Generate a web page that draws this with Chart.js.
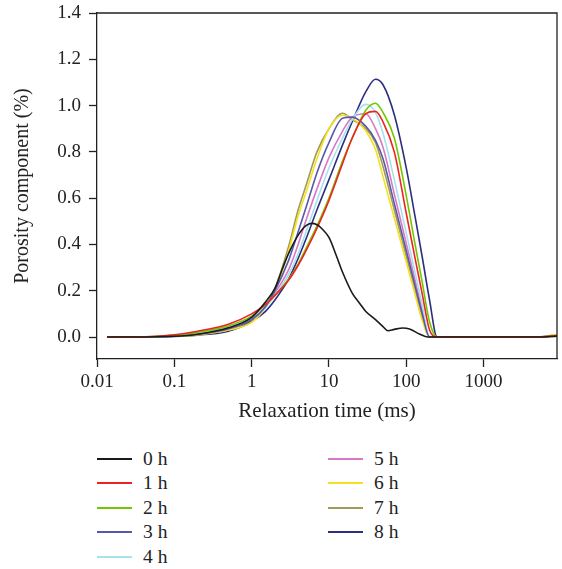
<!DOCTYPE html>
<html><head><meta charset="utf-8">
<script src="https://cdn.jsdelivr.net/npm/chart.js@4"></script>
<style>
html,body{margin:0;padding:0;background:#fff;}
#wrap{position:relative;width:562px;height:569px;overflow:hidden;}
#c{position:absolute;left:0;top:0;}
.lt{position:absolute;font-family:"Liberation Serif",serif;font-size:19.5px;color:#222;line-height:24px;height:24px;white-space:nowrap;}
.sw{position:absolute;height:2px;width:35px;}
</style></head>
<body><div id="wrap"><canvas id="c" width="562" height="430"></canvas><div id="legend"></div></div>
<script>
// Relaxation times (ms) shared by the 1 h - 8 h curves
const times = [0.0135, 0.03, 0.1, 0.2, 0.5, 1, 1.5, 2, 3, 4, 5, 7, 10, 15, 20, 30, 40, 50, 70, 100, 130, 160, 200, 250, 320, 1000, 5000, 8900];
// Relaxation times (ms) for the 0 h curve
const times0 = [0.0135, 0.03, 0.1, 0.2, 0.5, 1, 1.5, 2, 2.5, 3, 4, 5, 6, 7, 8, 10, 12.5, 15, 20, 25, 30, 40, 50, 58, 70, 90, 110, 150, 190, 250, 1000, 5000, 8900];

const h0 = [0,0,0.003,0.012,0.04,0.085,0.15,0.21,0.295,0.36,0.44,0.48,0.491,0.485,0.47,0.43,0.35,0.28,0.19,0.145,0.11,0.075,0.045,0.027,0.033,0.039,0.035,0.012,0,0,0,0,0.004];
const h1 = [0,0,0.01,0.025,0.055,0.1,0.14,0.18,0.245,0.31,0.37,0.47,0.59,0.75,0.86,0.965,0.975,0.93,0.80,0.534,0.34,0.19,0.03,0,0,0,0,0.005];
const h2 = [0,0,0.007,0.02,0.048,0.09,0.14,0.18,0.25,0.315,0.38,0.48,0.6,0.76,0.86,0.98,1.01,0.97,0.86,0.61,0.40,0.24,0.066,0,0,0,0,0.005];
const h3 = [0,0,0.004,0.012,0.035,0.075,0.13,0.2,0.33,0.455,0.555,0.71,0.84,0.945,0.95,0.91,0.85,0.77,0.577,0.373,0.222,0.104,0,0,0,0,0,0.006];
const h4 = [0,0,0.005,0.016,0.04,0.078,0.125,0.18,0.27,0.36,0.45,0.59,0.73,0.86,0.94,1.005,0.97,0.88,0.68,0.449,0.278,0.143,0,0,0,0,0,0.006];
const h5 = [0,0,0.005,0.015,0.038,0.08,0.13,0.19,0.29,0.4,0.5,0.64,0.775,0.89,0.95,0.965,0.9,0.82,0.618,0.404,0.246,0.12,0,0,0,0,0,0.006];
const h6 = [0,0,0.003,0.01,0.03,0.063,0.125,0.2,0.37,0.525,0.62,0.77,0.9,0.958,0.945,0.89,0.81,0.693,0.514,0.324,0.184,0.074,0,0,0,0,0,0.01];
const h7 = [0,0,0.003,0.01,0.03,0.065,0.13,0.21,0.39,0.55,0.65,0.8,0.9,0.967,0.94,0.9,0.84,0.737,0.55,0.35,0.204,0.089,0,0,0,0,0,0.01];
const h8 = [0,0,0.002,0.008,0.025,0.068,0.11,0.16,0.25,0.34,0.42,0.55,0.68,0.83,0.93,1.06,1.114,1.09,0.96,0.73,0.52,0.35,0.16,0,0,0,0,0.006];

const seriesLabels = ['0 h','1 h','2 h','3 h','4 h','5 h','6 h','7 h','8 h'];
const seriesColors = ['#1a1a1a','#ee2222','#72c800','#5858aa','#a6e2ee','#d878c8','#f4e020','#a09c55','#2e2e80'];
const xTicks = [0.01, 0.1, 1, 10, 100, 1000];
const xTickLabels = ['0.01','0.1','1','10','100','1000'];
const yTicks = [0, 0.2, 0.4, 0.6, 0.8, 1.0, 1.2, 1.4];

const allValues = [h0,h1,h2,h3,h4,h5,h6,h7,h8];
const datasets = allValues.map((vals, i) => {
  const tx = i === 0 ? times0 : times;
  return {
    label: seriesLabels[i],
    data: vals.map((v, k) => ({x: tx[k], y: v})),
    borderColor: seriesColors[i],
    backgroundColor: seriesColors[i],
    borderWidth: 1.6,
    pointRadius: 0,
    fill: false,
    cubicInterpolationMode: 'monotone'
  };
});

const TICKFONT = {family: '"Liberation Serif", serif', size: 19};
const XTITLEFONT = {family: '"Liberation Serif", serif', size: 21};
const YTITLEFONT = {family: '"Liberation Serif", serif', size: 20};
const INK = '#222';
const H = 430;

const frame = {
  id: 'frame',
  afterDraw(chart) {
    const {ctx, chartArea: a} = chart;
    ctx.save();
    ctx.strokeStyle = INK; ctx.lineWidth = 1.3;
    ctx.beginPath();
    ctx.moveTo(a.left, a.top); ctx.lineTo(a.right, a.top); ctx.lineTo(a.right, a.bottom);
    ctx.stroke();
    ctx.restore();
  }
};

new Chart(document.getElementById('c'), {
  type: 'line',
  data: {datasets},
  options: {
    responsive: false,
    animation: false,
    events: [],
    layout: {padding: {top: 13, right: 5, left: 0, bottom: 0}},
    plugins: {legend: {display: false}, tooltip: {enabled: false}},
    scales: {
      x: {
        type: 'logarithmic', min: 0.01, max: 8900,
        afterBuildTicks: s => { s.ticks = xTicks.map(v => ({value: v})); },
        afterFit: s => { s.height = H - 359; s.paddingLeft = 0; s.paddingRight = 0; },
        ticks: {
          font: TICKFONT, color: INK, padding: 4, maxRotation: 0, autoSkip: false,
          callback: (v) => { const i = xTicks.indexOf(v); return i >= 0 ? xTickLabels[i] : ''; }
        },
        grid: {drawOnChartArea: false, drawTicks: true, tickLength: 8, color: INK, tickWidth: 1.3},
        border: {display: true, color: INK, width: 1.3},
        title: {display: true, text: 'Relaxation time (ms)', font: XTITLEFONT, color: INK, padding: {top: 0, bottom: 6}}
      },
      y: {
        type: 'linear', min: -0.095, max: 1.4,
        afterBuildTicks: s => { s.ticks = yTicks.map(v => ({value: v})); },
        afterFit: s => { s.width = 97; s.paddingTop = 0; s.paddingBottom = 0; },
        ticks: {font: TICKFONT, color: INK, padding: 8, callback: v => Number(v).toFixed(1)},
        grid: {drawOnChartArea: false, drawTicks: true, tickLength: 8, color: INK, tickWidth: 1.3},
        border: {display: true, color: INK, width: 1.3},
        title: {display: true, text: 'Porosity component (%)', font: YTITLEFONT, color: INK, padding: {top: 11, bottom: 0}}
      }
    }
  },
  plugins: [frame]
});

// HTML legend, two columns
const legend = document.getElementById('legend');
seriesLabels.forEach((lab, i) => {
  const col = i < 5 ? 0 : 1;
  const row = i < 5 ? i : i - 5;
  const cy = Math.round(459 + row * 24.4);
  const sw = document.createElement('div');
  sw.className = 'sw';
  sw.style.left = (col ? 328 : 97) + 'px';
  sw.style.top = (cy - 1) + 'px';
  sw.style.background = seriesColors[i];
  legend.appendChild(sw);
  const t = document.createElement('div');
  t.className = 'lt';
  t.style.left = (col ? 374 : 143) + 'px';
  t.style.top = (cy - 12) + 'px';
  t.textContent = lab;
  legend.appendChild(t);
});
</script>
</body></html>
